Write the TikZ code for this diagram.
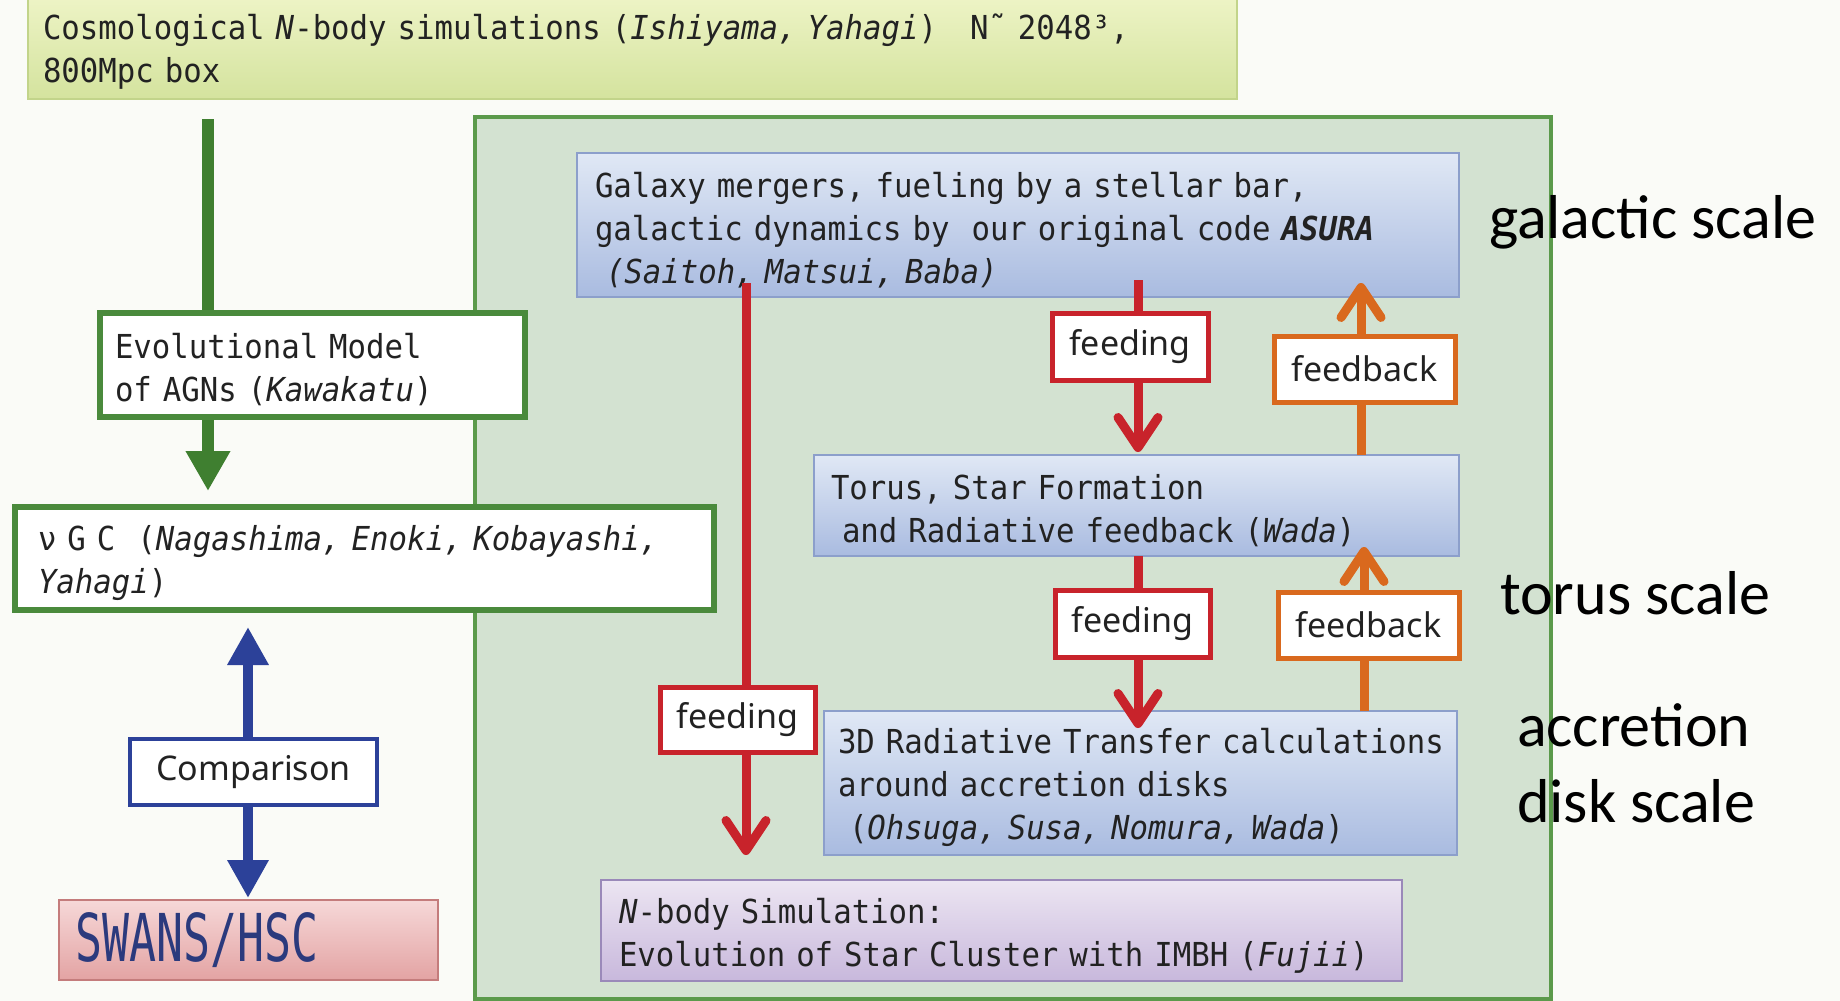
\documentclass[tikz,border=0pt]{standalone}
\usepackage{fontspec}
\usetikzlibrary{arrows.meta}
\newfontfamily\gothic[FakeStretch=0.93]{DejaVu Sans Mono}
\newfontfamily\swansfont[FakeStretch=0.68]{DejaVu Sans Mono}
\newfontfamily\tagfont{Noto Sans}
\newfontfamily\scalefont{Carlito}

\definecolor{pagebg}{HTML}{FAFBF7}
\definecolor{panelfill}{HTML}{D3E2D1}
\definecolor{panelline}{HTML}{5B9A4B}
\definecolor{boxgreen}{HTML}{4A8A3C}
\definecolor{arrowgreen}{HTML}{3F7F30}
\definecolor{topA}{HTML}{EEF4C6}
\definecolor{topB}{HTML}{D4E39E}
\definecolor{topline}{HTML}{C2D48A}
\definecolor{blueA}{HTML}{E0E8F5}
\definecolor{blueB}{HTML}{A9BBE0}
\definecolor{blueline}{HTML}{8C9FCB}
\definecolor{lavA}{HTML}{ECE5F2}
\definecolor{lavB}{HTML}{C8B8DC}
\definecolor{lavline}{HTML}{9A89B9}
\definecolor{pinkA}{HTML}{F6D8D8}
\definecolor{pinkB}{HTML}{E3A3A3}
\definecolor{pinkline}{HTML}{C47C7C}
\definecolor{feedred}{HTML}{C8232B}
\definecolor{backorange}{HTML}{D9691E}
\definecolor{cmpblue}{HTML}{2C4199}
\definecolor{swanstext}{HTML}{2B3A7D}
\definecolor{ink}{HTML}{222222}

\pgfdeclarelayer{back}
\pgfdeclarelayer{mid}
\pgfsetlayers{back,mid,main}

\begin{document}
\begin{tikzpicture}[x=1pt,y=-1pt,
  every node/.style={inner sep=0pt, outer sep=0pt, text=ink},
  % a taller first line pushes the text block down a little inside its box
  gtext/.style={font=\gothic\fontsize{33pt}{43pt}\selectfont, align=left,
    execute at begin node={\rule{0pt}{35pt}}},
  topbox/.style={rectangle, draw=topline, line width=1.5pt, top color=topA, bottom color=topB, anchor=north west, gtext},
  scalebox/.style={rectangle, draw=blueline, line width=2pt, top color=blueA, bottom color=blueB, anchor=north west, gtext},
  clusterbox/.style={rectangle, draw=lavline, line width=2pt, top color=lavA, bottom color=lavB, anchor=north west, gtext},
  modelbox/.style={rectangle, draw=boxgreen, line width=6pt, fill=white, anchor=north west, gtext},
  surveybox/.style={rectangle, draw=pinkline, line width=2pt, top color=pinkA, bottom color=pinkB, anchor=north west,
    font=\swansfont\fontsize{66pt}{70pt}\selectfont, text=swanstext, align=left},
  tagbox/.style={rectangle, fill=white, line width=5pt, font=\tagfont\fontsize{34pt}{40pt}\selectfont},
  feedtag/.style={tagbox, draw=feedred},
  backtag/.style={tagbox, draw=backorange},
  cmptag/.style={tagbox, draw=cmpblue, line width=4pt},
  scalelabel/.style={anchor=base west, font=\scalefont\fontsize{62pt}{70pt}\selectfont, text=black},
  feedarrow/.style={draw=feedred, line width=9pt, -{Straight Barb[length=30pt,width=40pt,round]}},
  backarrow/.style={draw=backorange, line width=9pt, -{Straight Barb[length=30pt,width=40pt,round]}},
  greenlink/.style={draw=arrowgreen, line width=12pt},
  greenarrow/.style={greenlink, -{Triangle[length=40pt,width=42pt]}},
  bluearrow/.style={draw=cmpblue, line width=10pt, -{Triangle[length=38pt,width=39pt]}}
]
\useasboundingbox (0,0) rectangle (1840,1001);

\begin{pgfonlayer}{back}
  % page and the simulation panel
  \fill[pagebg] (0,0) rectangle (1840,1001);
  \draw[panelline, line width=4pt, fill=panelfill] (475,117) rectangle (1551,999);

  % cosmological simulation header
  \node[topbox, text width=1179pt, inner xsep=15pt, minimum height=104pt] (cosmo) at (28,-5)
    {Cosmological \textit{N}-body simulations (\textit{Ishiyama, Yahagi})~~~N˜ 2048³,\\800Mpc box};

  % the three scales and the cluster model
  \node[scalebox, text width=846pt, inner xsep=18pt, minimum height=144pt] (gal) at (577,153)
    {Galaxy mergers, fueling by a stellar bar,\\galactic dynamics by~~our original code \textbf{\textit{ASURA}}\\~\textit{(Saitoh, Matsui, Baba)}};
  \node[scalebox, text width=611pt, inner xsep=17pt, minimum height=101pt] (tor) at (814,455)
    {Torus, Star Formation\\~and Radiative feedback (\textit{Wada})};
  \node[scalebox, text width=605pt, inner xsep=14pt, minimum height=144pt] (rt) at (824,711)
    {\mbox{3D Radiative Transfer calculations}\\around accretion disks\\~(\textit{Ohsuga, Susa, Nomura, Wada})};
  \node[clusterbox, text width=765pt, inner xsep=18pt, minimum height=101pt] (nb) at (601,880)
    {\textit{N}-body Simulation:\\Evolution of Star Cluster with IMBH (\textit{Fujii})};
\end{pgfonlayer}

% semi-analytic side
\node[modelbox, text width=395pt, inner xsep=15pt, minimum height=104pt] (evo) at (100,313)
  {Evolutional Model\\of AGNs (\textit{Kawakatu})};
\node[modelbox, text width=653pt, inner xsep=23pt, minimum height=103pt] (vgc) at (15,507)
  {ν G C~~(\textit{Nagashima, Enoki, Kobayashi,}\\\textit{Yahagi})};
\node[cmptag, minimum width=247pt, minimum height=66pt] (cmp) at (253.5,772) {Comparison};
\node[surveybox, text width=347pt, inner xsep=16pt, minimum height=80pt] (swans) at (59,900) {SWANS/HSC};

% feeding and feedback tags
\node[feedtag, minimum width=156pt, minimum height=67pt] (fdA) at (1130,346.5) {feeding};
\node[feedtag, minimum width=155pt, minimum height=67pt] (fdB) at (1132.5,623.5) {feeding};
\node[feedtag, minimum width=155pt, minimum height=65pt] (fdC) at (737.5,719.5) {feeding};
\node[backtag, minimum width=181pt, minimum height=66pt] (fbA) at (1364.5,369) {feedback};
\node[backtag, minimum width=181pt, minimum height=66pt] (fbB) at (1368.5,625) {feedback};

% arrow end points
\coordinate (cosmoOut) at (208,119);
\coordinate (evoOut) at (208,417);
\coordinate (vgcIn) at (208,491);
\coordinate (galOutA) at (1138,280);
\coordinate (torIn) at (1138,452);
\coordinate (torOut) at (1138,556);
\coordinate (rtIn) at (1138,728);
\coordinate (galOutB) at (746,283);
\coordinate (nbIn) at (746,855);
\coordinate (torBack) at (1361,455);
\coordinate (galIn) at (1361,283);
\coordinate (rtBack) at (1364,711);
\coordinate (torInB) at (1364,547);
\coordinate (vgcUp) at (248,627);
\coordinate (swansIn) at (248,898);

\begin{pgfonlayer}{mid}
  \draw[greenlink] (cosmoOut) -- (cosmoOut |- evo.north);
  \draw[greenarrow] (evoOut) -- (vgcIn);
  \draw[bluearrow] (vgcUp |- cmp.north) -- (vgcUp);
  \draw[bluearrow] (swansIn |- cmp.south) -- (swansIn);
  \draw[feedarrow] (galOutA) -- (torIn);
  \draw[feedarrow] (torOut) -- (rtIn);
  \draw[feedarrow] (galOutB) -- (nbIn);
  \draw[backarrow] (torBack) -- (galIn);
  \draw[backarrow] (rtBack) -- (torInB);
\end{pgfonlayer}

% scale annotations
\node[scalelabel] (lgal) at (1489,238) {galactic scale};
\node[scalelabel] (ltor) at (1500,614) {torus scale};
\node[scalelabel] (lacc) at (1517,746) {accretion};
\node[scalelabel] (ldisk) at (1517,822) {disk scale};
\end{tikzpicture}
\end{document}
